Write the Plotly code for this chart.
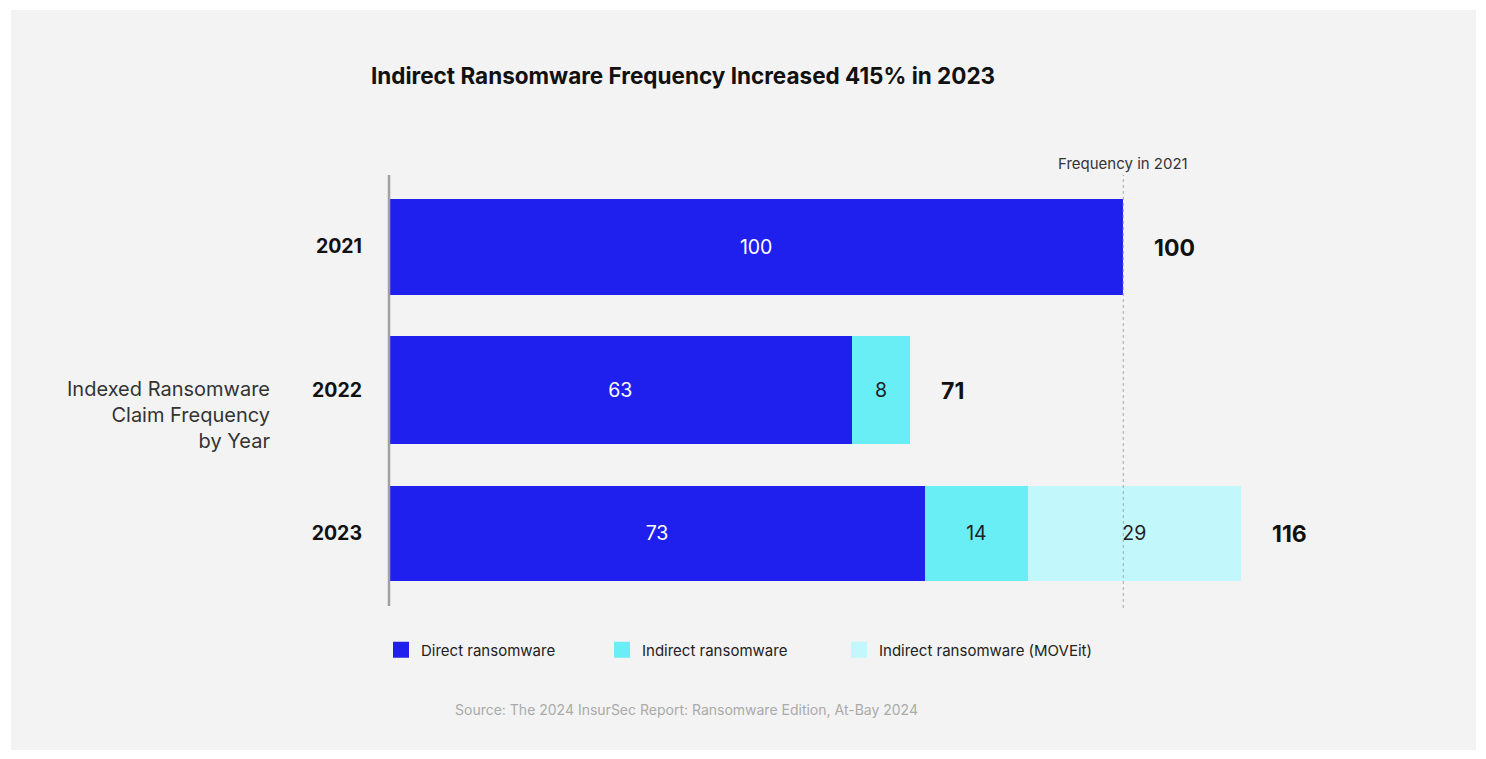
import plotly.graph_objects as go

years = ["2021", "2022", "2023"]
direct = [100, 63, 73]
indirect = [None, 8, 14]
moveit = [None, None, 29]
totals = [100, 71, 116]
series_names = ["Direct ransomware", "Indirect ransomware", "Indirect ransomware (MOVEit)"]
colors = ["#2020EE", "#6AEEF6", "#C2F7FB"]
text_colors = ["#FFFFFF", "#222222", "#222222"]
bar_widths = [0.67, 0.755, 0.665]

FONT = "Inter"
OFF = 8  # browser body margin
W, H = 1486 - 2 * OFF, 759 - 2 * OFF
# plot area in screen pixels
SX0, SX1, SY0, SY1 = 389, 1417, 175, 605
L, R, T, B = SX0 - OFF, W - (SX1 - OFF), SY0 - OFF, H - (SY1 - OFF)
PW, PH = W - L - R, H - T - B


def px(x):
    return (x - OFF - L) / PW


def py(y):
    return (H - B - (y - OFF)) / PH


fig = go.Figure()
legend_ids = ["legend", "legend2", "legend3"]
for name, vals, col, tcol, lg in zip(series_names, [direct, indirect, moveit], colors, text_colors, legend_ids):
    fig.add_trace(go.Bar(
        y=years, x=vals, name=name, orientation="h",
        marker=dict(color=col, line=dict(width=0)),
        text=[("" if v is None else str(v)) for v in vals],
        textposition="inside", insidetextanchor="middle", textangle=0,
        constraintext="none",
        textfont=dict(family=FONT, size=19.5, color=tcol),
        width=bar_widths, showlegend=False,
    ))
    # legend entry with a larger square swatch
    fig.add_trace(go.Scatter(
        x=[None], y=[None], mode="markers", name=name, legend=lg,
        marker=dict(symbol="square", size=18, color=col, line=dict(width=0)),
        showlegend=True, hoverinfo="skip",
    ))

shapes = [
    dict(type="rect", xref="paper", yref="paper", x0=px(11), x1=px(1476), y0=py(750), y1=py(10),
         fillcolor="#F3F3F3", line=dict(width=0), layer="below"),
    dict(type="line", xref="x", yref="paper", x0=totals[0], x1=totals[0], y0=py(608), y1=1.0,
         line=dict(color="#A8A8A8", width=1, dash="dot"), layer="above"),
    dict(type="line", xref="paper", yref="paper", x0=0, x1=0, y0=py(606), y1=1.0,
         line=dict(color="#A0A0A0", width=2.5)),
]

annotations = [
    dict(text="<b>Indirect Ransomware Frequency Increased 415% in 2023</b>", xref="paper", yref="paper",
         x=px(369), y=py(75), xanchor="left", yanchor="middle", showarrow=False,
         font=dict(family=FONT, size=22.5, color="#111111")),
    dict(text="Frequency in 2021", xref="x", yref="paper", x=totals[0], y=py(163),
         xanchor="center", yanchor="middle", showarrow=False,
         font=dict(family=FONT, size=15, color="#333333")),
    dict(text="Indexed Ransomware<br>Claim Frequency<br>by Year", xref="paper", yref="paper",
         x=px(272), y=py(415), xanchor="right", yanchor="middle", align="right", showarrow=False,
         font=dict(family=FONT, size=20, color="#333333")),
    dict(text="Source: The 2024 InsurSec Report: Ransomware Edition, At-Bay 2024", xref="paper", yref="paper",
         x=px(686), y=py(709), xanchor="center", yanchor="middle", showarrow=False,
         font=dict(family=FONT, size=14, color="#AAAAAA")),
]
for i, tot in enumerate(totals):
    annotations.append(dict(text=f"<b>{tot}</b>", xref="x", yref="y", x=tot, y=i,
                            xanchor="left", yanchor="middle", xshift=29, yshift=-1, showarrow=False,
                            font=dict(family=FONT, size=23, color="#111111")))

legend_style = dict(orientation="h", xanchor="left", yanchor="middle",
                    font=dict(family=FONT, size=15, color="#222222"), bgcolor="rgba(0,0,0,0)")
legend_x = [381, 602, 839]

fig.update_layout(
    width=W, height=H,
    barmode="stack",
    paper_bgcolor="#FFFFFF", plot_bgcolor="rgba(0,0,0,0)",
    margin=dict(l=L, r=R, t=T, b=B, pad=0),
    font=dict(family=FONT),
    shapes=shapes, annotations=annotations,
    xaxis=dict(range=[0, 140], autorange=False, visible=False, showgrid=False, zeroline=False),
    yaxis=dict(type="category", categoryorder="array", categoryarray=years,
               range=[2.5, -0.5], autorange=False,
               tickvals=years, ticktext=[f"<b>{y}</b>" for y in years],
               tickfont=dict(family=FONT, size=19.5, color="#111111"),
               ticks="", showline=False, showgrid=False, zeroline=False,
               ticklabelstandoff=26),
    legend=dict(x=px(legend_x[0]), y=py(650), **legend_style),
    legend2=dict(x=px(legend_x[1]), y=py(650), **legend_style),
    legend3=dict(x=px(legend_x[2]), y=py(650), **legend_style),
    showlegend=True,
)

fig.write_html("out.html")
